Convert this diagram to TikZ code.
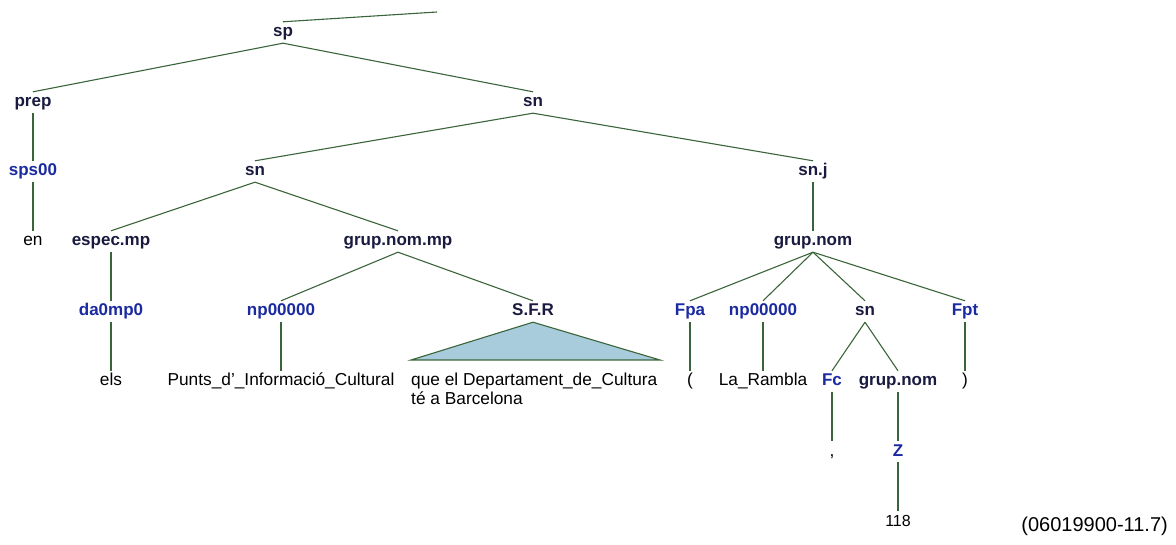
\documentclass[tikz,border=0pt]{standalone}
\usepackage{fontspec}
\setmainfont{Liberation Sans}
\usetikzlibrary{positioning}

\definecolor{phrasecol}{HTML}{1A1A40}
\definecolor{tagcol}{HTML}{1A2AA0}
\definecolor{edgecol}{HTML}{3A643A}
\definecolor{trifill}{HTML}{A8CCDC}

\tikzset{
  lab/.style={inner xsep=0pt, inner ysep=3pt, text height=12pt, text depth=3pt, anchor=base},
  phrase/.style={lab, text=phrasecol, font=\fontsize{17}{19}\selectfont\bfseries},
  tag/.style={lab, text=tagcol, font=\fontsize{17}{19}\selectfont\bfseries},
  word/.style={lab, text=black, font=\fontsize{17.3}{19}\selectfont},
  edge/.style={draw=edgecol, line width=1.1pt}
}

\begin{document}
\begin{tikzpicture}[x=1pt, y=-1pt]
  \useasboundingbox (0,0) rectangle (1176,545);

  % livell 0-2
  \node[phrase] (sp) at (283,37) {sp};
  \node[phrase] (prep) at (33,107) {prep};
  \node[phrase] (snA) at (533,107) {sn};
  \node[tag] (sps) at (33,176) {sps00};
  \node[phrase] (snB) at (255,176) {sn};
  \node[phrase] (snj) at (813,176) {sn.j};

  % livell 3-4
  \node[word] (en) at (33,246) {en};
  \node[phrase] (espec) at (111,246) {espec.mp};
  \node[phrase] (grupmp) at (398,246) {grup.nom.mp};
  \node[phrase] (grupnom) at (813,246) {grup.nom};
  \node[tag] (da) at (111,316) {da0mp0};
  \node[tag] (npA) at (281,316) {np00000};
  \node[phrase] (sfr) at (533,316) {S.F.R};
  \node[tag] (fpa) at (690,316) {Fpa};
  \node[tag] (npB) at (763,316) {np00000};
  \node[phrase] (snC) at (865,316) {sn};
  \node[tag] (fpt) at (965,316) {Fpt};

  % paraules
  \node[word] (els) at (111,386) {els};
  \node[word] (punts) at (281,386) {Punts\_d’\_Informació\_Cultural};
  \node[word, anchor=base west] (queA) at (411,386) {que el Departament\_de\_Cultura};
  \node[word, anchor=base west] (queB) at (411,404) {té a Barcelona};
  \node[word] (lpar) at (690,386) {(};
  \node[word] (rambla) at (763,386) {La\_Rambla};
  \node[tag] (fc) at (832,386) {Fc};
  \node[phrase] (grupnomB) at (898,386) {grup.nom};
  \node[word] (rpar) at (965,386) {)};
  \node[word] (comma) at (832,456) {,};
  \node[tag] (z) at (898,456) {Z};
  \node[word, font=\fontsize{16}{18}\selectfont] (num) at (898,526) {118};
  \node[font=\fontsize{20}{22}\selectfont, anchor=base east, inner sep=0pt] (ref) at (1168,531) {(06019900-11.7)};

  % triangle
  \coordinate (triL) at (411,360);
  \coordinate (triR) at (660,360);
  \filldraw[edge, fill=trifill] (sfr.south) -- (triL) -- (triR) -- cycle;

  % rami
  \coordinate (topend) at (437,12);
  \draw[edge] (sp.north) -- (topend);
  \draw[edge] (sp.south) -- (prep.north);
  \draw[edge] (sp.south) -- (snA.north);
  \draw[edge] (prep.south) -- (sps.north);
  \draw[edge] (sps.south) -- (en.north);
  \draw[edge] (snA.south) -- (snB.north);
  \draw[edge] (snA.south) -- (snj.north);
  \draw[edge] (snB.south) -- (espec.north);
  \draw[edge] (snB.south) -- (grupmp.north);
  \draw[edge] (espec.south) -- (da.north);
  \draw[edge] (da.south) -- (els.north);
  \draw[edge] (grupmp.south) -- (npA.north);
  \draw[edge] (grupmp.south) -- (sfr.north);
  \draw[edge] (npA.south) -- (punts.north);
  \draw[edge] (snj.south) -- (grupnom.north);
  \draw[edge] (grupnom.south) -- (fpa.north);
  \draw[edge] (grupnom.south) -- (npB.north);
  \draw[edge] (grupnom.south) -- (snC.north);
  \draw[edge] (grupnom.south) -- (fpt.north);
  \draw[edge] (fpa.south) -- (lpar.north);
  \draw[edge] (npB.south) -- (rambla.north);
  \draw[edge] (fpt.south) -- (rpar.north);
  \draw[edge] (snC.south) -- (fc.north);
  \draw[edge] (snC.south) -- (grupnomB.north);
  \draw[edge] (fc.south) -- (comma.north);
  \draw[edge] (grupnomB.south) -- (z.north);
  \draw[edge] (z.south) -- (num.north);
\end{tikzpicture}
\end{document}
